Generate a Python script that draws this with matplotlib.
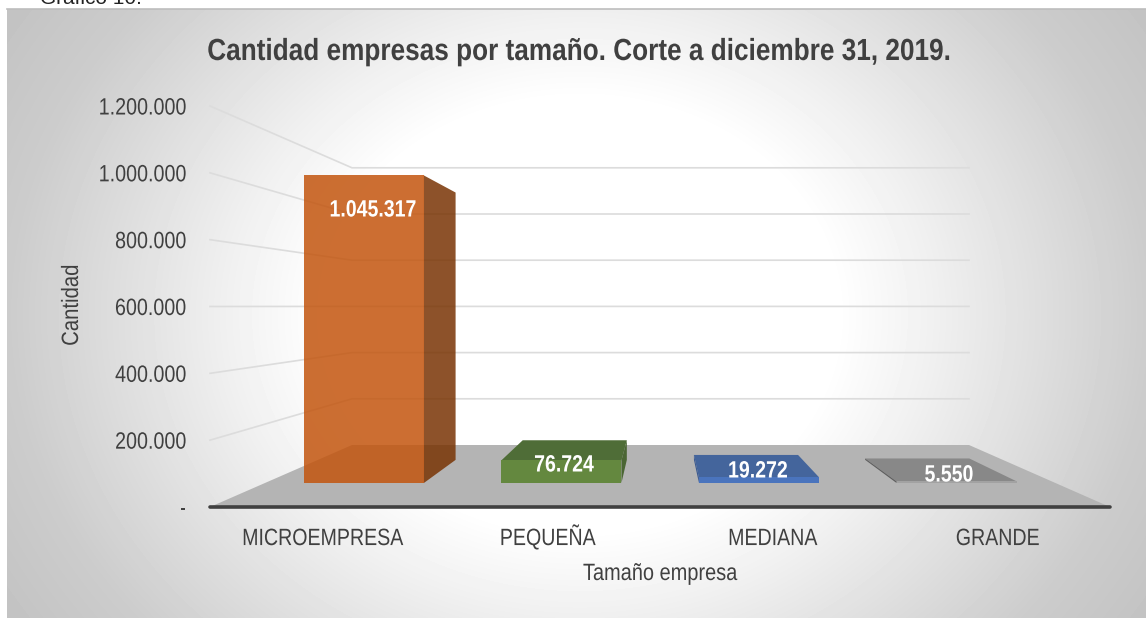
import numpy as np
import matplotlib
matplotlib.use("Agg")
import matplotlib.pyplot as plt
from matplotlib.patches import Polygon
from matplotlib.patheffects import AbstractPathEffect
from matplotlib.ticker import FuncFormatter, FixedLocator
from matplotlib.transforms import Affine2D

categories = ["MICROEMPRESA", "PEQUEÑA", "MEDIANA", "GRANDE"]
values = [1045317, 76724, 19272, 5550]
value_labels = ["1.045.317", "76.724", "19.272", "5.550"]
y_ticks = [0, 200000, 400000, 600000, 800000, 1000000, 1200000]
title = "Cantidad empresas por tamaño. Corte a diciembre 31, 2019."
x_title = "Tamaño empresa"
y_title = "Cantidad"

W, H = 1146, 618
FONT = "Liberation Sans"
TXT = "#404040"
plt.rcParams["font.family"] = FONT
fig = plt.figure(figsize=(W / 100, H / 100), dpi=100, facecolor="white")


class Squeeze(AbstractPathEffect):
    """Draw a text narrower along its reading direction (Arial Narrow look)."""
    def __init__(self, s=0.83, anchor="center", vertical=False):
        super().__init__()
        self.s, self.anchor, self.vertical = s, anchor, vertical

    def draw_path(self, renderer, gc, tpath, affine, rgbFace=None):
        box = affine.transform_path(tpath).get_extents()
        if self.vertical:
            c = (box.y0 + box.y1) / 2
            extra = Affine2D().translate(0, -c).scale(1, self.s).translate(0, c)
        else:
            c = box.x1 if self.anchor == "right" else (box.x0 + box.x1) / 2
            extra = Affine2D().translate(-c, 0).scale(self.s, 1).translate(c, 0)
        renderer.draw_path(gc, tpath, affine + extra, rgbFace)


# backdrop
bg = fig.add_axes([0, 0, 1, 1])
xx, yy = np.meshgrid(np.arange(7, W) + .5, np.arange(9, H) + .5)
r = np.hypot((xx - 580) / 570, (yy - 315) / 480)
img = np.interp(r, [.45, .625, 1.0, 1.2], [1.0, .94, .80, .76])
bg.imshow(img, cmap="gray", vmin=0, vmax=1, extent=(7, W, H, 9), aspect="auto", interpolation="bilinear")
bg.set_xlim(0, W); bg.set_ylim(H, 0); bg.axis("off")
bg.plot([7, W], [9, 9], color="#bdbdbd", lw=1.2)
bg.text(40, 4, "Gráfico 10:", fontsize=15, color="#222222", va="baseline", ha="left")

# main axes: the front plane of the 3-D box
L, R, T, B = 210, 1110, 106, 507
ax = fig.add_axes([L / W, 1 - B / H, (R - L) / W, (B - T) / H])
ax.patch.set_alpha(0)
YMAX = y_ticks[-1]
ax.set_xlim(0, 1); ax.set_ylim(0, YMAX)
front_unit = (B - T) / YMAX
back_unit = 46.2 / 200000
floor_rise = (B - 445) / front_unit
back_l, back_r = (352 - L) / (R - L), (969 - L) / (R - L)


def project(u, v, d):
    """category fraction u, value v, depth d (0 front .. 1 back) -> front-plane data"""
    left = back_l * d
    right = 1 + (back_r - 1) * d
    x = left + u * (right - left)
    scale = (front_unit + (back_unit - front_unit) * d) / front_unit
    return x, floor_rise * d + v * scale


def quad(pts, **kw):
    ax.add_patch(Polygon([project(*p) for p in pts], closed=True, lw=0, clip_on=False, **kw))


# floor
quad([(0, 0, 0), (1, 0, 0), (1, 0, 1), (0, 0, 1)], facecolor="#b4b4b4", zorder=1)

# gridlines
for v in y_ticks[1:]:
    p0 = project(0, v, 0); p1 = project(0, v, 1); p2 = project(1, v, 1)
    ax.plot([p0[0], p1[0], p2[0]], [p0[1], p1[1], p2[1]], color="#dcdcdc", lw=1.2,
            solid_joinstyle="miter", zorder=1.5, clip_on=False)

# bars
n = len(categories)
width = 0.152
d0, d1 = 0.387, 0.76
styles = [
    dict(front="#c3550e", top=None, side="#793404", alpha=.85, right=True),
    dict(front="#64883f", top="#4f6d37", side="#4b6634", alpha=1, right=True),
    dict(front="#4a74bd", top="#44659c", side="#3b5a90", alpha=1, right=False),
    dict(front="#a2a2a2", top="#888888", side="#5f5f5f", alpha=1, right=False),
]
for i, (v, st) in enumerate(zip(values, styles)):
    c = (i + .5) / n
    u0, u1 = c - width / 2, c + width / 2
    us = u1 if st["right"] else u0
    a = st["alpha"]
    if st["top"]:
        quad([(u0, v, d0), (u1, v, d0), (u1, v, d1), (u0, v, d1)], facecolor=st["top"], alpha=a, zorder=2)
    quad([(us, 0, d0), (us, v, d0), (us, v, d1), (us, 0, d1)], facecolor=st["side"], alpha=a, zorder=2.1)
    quad([(u0, 0, d0), (u1, 0, d0), (u1, v, d0), (u0, v, d0)], facecolor=st["front"], alpha=a, zorder=2.2)

# value labels
label_pix = [(373, 210), (564, 465), (758, 471), (949, 475)]
for lab, (px, py) in zip(value_labels, label_pix):
    ax.annotate(lab, xy=(px / W, 1 - py / H), xycoords="figure fraction", ha="center", va="center",
                color="white", fontsize=17, fontweight="bold", zorder=5,
                path_effects=[Squeeze(.827)])

# axes furniture
for s in ("top", "left", "right"):
    ax.spines[s].set_visible(False)
ax.spines["bottom"].set_color("#404040")
ax.spines["bottom"].set_linewidth(2.6)
ax.spines["bottom"].set_capstyle("round")
ax.spines["bottom"].set_zorder(3)
ax.yaxis.set_major_locator(FixedLocator(y_ticks))
ax.yaxis.set_major_formatter(FuncFormatter(lambda v, _: "-" if v == 0 else f"{int(v):,}".replace(",", ".")))
ax.xaxis.set_major_locator(FixedLocator([(i + .5) / n for i in range(n)]))
ax.set_xticklabels(categories)
ax.tick_params(axis="y", length=0, pad=17, labelsize=17, labelcolor=TXT)
ax.tick_params(axis="x", length=0, pad=27.4, labelsize=17, labelcolor=TXT)
for t in ax.get_yticklabels():
    t.set_path_effects([Squeeze(.835, anchor="right")])
for t in ax.get_xticklabels():
    t.set_verticalalignment("baseline")
    t.set_path_effects([Squeeze(.83)])

fig.text(660 / W, 1 - 574 / H, x_title, ha="center", va="center", fontsize=17, color=TXT,
         path_effects=[Squeeze(.846)])
fig.text(72 / W, 1 - 305 / H, y_title, ha="center", va="center", rotation=90, fontsize=17, color=TXT,
         path_effects=[Squeeze(.86, vertical=True)])
fig.text(579 / W, 1 - 52 / H, title, ha="center", va="center", fontsize=22, fontweight="bold", color=TXT,
         path_effects=[Squeeze(.857)])

fig.savefig("out.png", dpi=100, facecolor="white")
